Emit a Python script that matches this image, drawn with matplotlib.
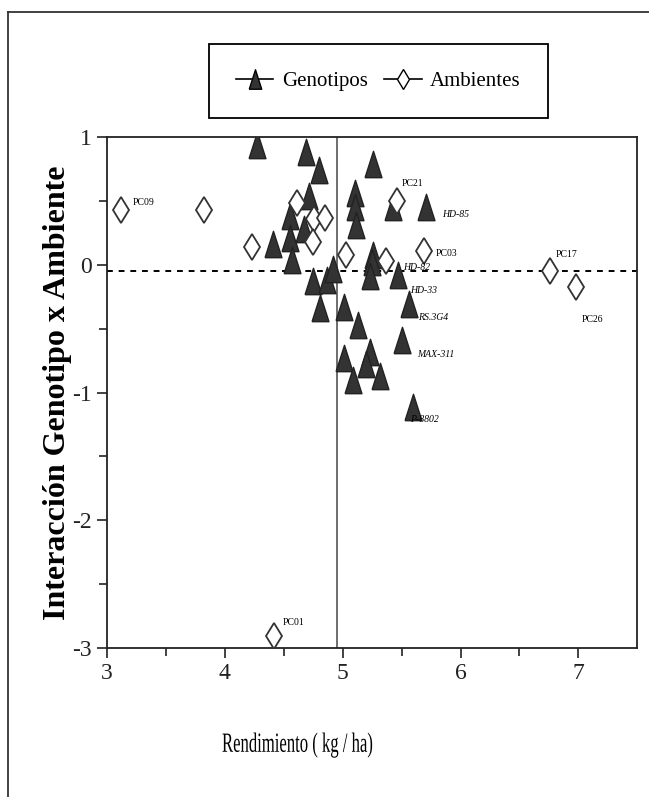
import matplotlib
matplotlib.use("Agg")
import matplotlib.pyplot as plt
from matplotlib.lines import Line2D
from matplotlib.transforms import Affine2D
from matplotlib import patheffects

plt.rcParams["axes.unicode_minus"] = False

# genotipos (triangulos)
gen_x = [4.27, 4.69, 4.80, 5.26, 4.71, 4.55, 5.10, 5.10, 5.11, 5.43, 5.71,
         4.55, 4.41, 4.57, 4.67, 5.26, 5.25, 5.23, 5.47, 4.75, 4.87, 4.92,
         4.81, 5.01, 5.56, 5.13, 5.50, 5.01, 5.23, 5.20, 5.32, 5.09, 5.60]
gen_y = [0.94, 0.88, 0.74, 0.79, 0.54, 0.38, 0.56, 0.45, 0.31, 0.45, 0.45,
         0.21, 0.16, 0.04, 0.28, 0.08, 0.02, -0.09, -0.08, -0.13, -0.12, -0.03,
         -0.34, -0.33, -0.31, -0.47, -0.59, -0.73, -0.68, -0.78, -0.87, -0.90, -1.11]

# ambientes (rombos)
amb_x = [3.12, 3.82, 4.23, 4.61, 4.76, 4.85, 4.75, 5.03, 5.37, 5.46, 5.69, 6.76, 6.98, 4.42]
amb_y = [0.43, 0.43, 0.14, 0.48, 0.36, 0.37, 0.18, 0.08, 0.03, 0.50, 0.11, -0.05, -0.17, -2.91]

# etiquetas
lab_txt = ["PC09", "PC21", "HD-85", "PC03", "HD-82", "HD-33", "RS.3G4", "MAX-311",
           "P-8802", "PC17", "PC26", "PC01"]
lab_x = [3.22, 5.50, 5.84, 5.79, 5.51, 5.57, 5.64, 5.63, 5.57, 6.81, 7.03, 4.49]
lab_y = [0.49, 0.64, 0.39, 0.09, -0.02, -0.20, -0.41, -0.70, -1.21, 0.08, -0.43, -2.80]

media_x = 4.95
media_y = -0.05

serif = "Liberation Serif"


class Condense(patheffects.AbstractPathEffect):
    # estrecha el texto en horizontal (la fuente original es condensada)
    def __init__(self, sx=0.75):
        super().__init__()
        self.sx = sx

    def draw_path(self, renderer, gc, tpath, affine, rgbFace=None):
        m = affine.get_matrix().copy()
        m[0, 0] *= self.sx
        m[0, 1] *= self.sx
        renderer.draw_path(gc, tpath, Affine2D(m), rgbFace)


tri = [(-0.32, -0.5), (0.32, -0.5), (0.0, 0.5), (-0.32, -0.5)]

fig = plt.figure(figsize=(6.49, 7.97), dpi=100)
ax = fig.add_axes([0.165, 0.187, 0.817, 0.641])

ax.axvline(media_x, color="#555555", lw=1.2, zorder=1)
ax.axhline(media_y, color="black", lw=1.4, ls=(0, (3, 3)), zorder=1)

ax.plot(gen_x, gen_y, ls="none", marker=tri, ms=19, color="#333333",
        mec="#222222", zorder=3)
ax.plot(amb_x, amb_y, ls="none", marker="d", ms=13, mfc="white",
        mec="#333333", mew=1.3, zorder=4)

for t, x, y in zip(lab_txt, lab_x, lab_y):
    st = "italic" if not t.startswith("PC") else "normal"
    ax.text(x, y, t, fontsize=7, family=serif, style=st,
            ha="left", va="center", zorder=5)

ax.set_xlim(3, 7.5)
ax.set_ylim(-3, 1)
ax.set_xticks([3, 4, 5, 6, 7])
ax.set_xticks([3.5, 4.5, 5.5, 6.5], minor=True)
ax.set_yticks([-3, -2, -1, 0, 1])
ax.set_yticks([-2.5, -1.5, -0.5, 0.5], minor=True)
ax.tick_params(which="both", direction="out", width=1.2, colors="#222222")
ax.tick_params(which="major", length=7, labelsize=17, pad=4)
ax.tick_params(which="minor", length=6)
for lbl in ax.get_xticklabels() + ax.get_yticklabels():
    lbl.set_family(serif)
for s in ax.spines.values():
    s.set_linewidth(1.3)
    s.set_color("#222222")

ax.set_ylabel("Interacción Genotipo x Ambiente", fontsize=23, fontweight="bold",
              family=serif, labelpad=0)
xl = fig.text(222 / 649, 0.065, "Rendimiento ( kg / ha)", fontsize=20, family=serif,
              ha="left", va="center")
xl.set_path_effects([Condense(0.6)])

handles = [Line2D([], [], color="black", marker=tri, ms=14, mfc="#333333", lw=1.2),
           Line2D([], [], color="black", marker="d", ms=10, mfc="white", lw=1.2)]
leg = fig.legend(handles, ["Genotipos", "Ambientes"], loc="center",
                 bbox_to_anchor=(0.583, 0.898), ncol=2, fancybox=False,
                 edgecolor="black", framealpha=1, handlelength=1.8,
                 columnspacing=0.8, handletextpad=0.4, borderpad=1.3,
                 prop={"family": serif, "size": 15})
leg.get_frame().set_linewidth(1.3)

# marco exterior (solo izquierda y arriba, como en el escaneo)
fig.add_artist(Line2D([0.012, 0.012], [0.0, 0.985], color="#333333", lw=1.3,
                      transform=fig.transFigure))
fig.add_artist(Line2D([0.012, 1.0], [0.985, 0.985], color="#333333", lw=1.3,
                      transform=fig.transFigure))

fig.savefig("out.png", dpi=100)
